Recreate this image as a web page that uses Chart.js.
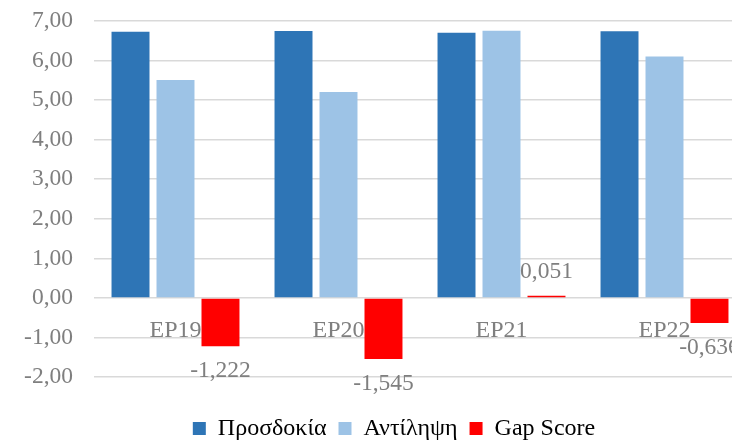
<!DOCTYPE html>
<html>
<head>
<meta charset="utf-8">
<script src="https://cdn.jsdelivr.net/npm/chart.js@4/dist/chart.umd.min.js"></script>
<style>
  html, body { margin: 0; padding: 0; overflow: hidden; background: #ffffff; width: 732px; height: 442px; }
  #c { position: absolute; left: 0; top: 0; }
</style>
</head>
<body>
<canvas id="c" width="760" height="442"></canvas>
<script>
const categories = ['EP19', 'EP20', 'EP21', 'EP22'];
const seriesNames = ['Προσδοκία', 'Αντίληψη', 'Gap Score'];
const expectation = [6.73, 6.75, 6.70, 6.74];
const perception = [5.508, 5.205, 6.751, 6.104];
const gapScore = [-1.222, -1.545, 0.051, -0.636];
const yTicks = [-2, -1, 0, 1, 2, 3, 4, 5, 6, 7];

const FONT = "'Liberation Serif', 'Times New Roman', serif";
const GRAY = '#7f7f7f';
const fmt = (v, d) => v.toFixed(d).replace('.', ',');

Chart.defaults.font.family = FONT;

const gapLabels = {
  id: 'gapLabels',
  afterDatasetsDraw(chart) {
    const ctx = chart.ctx;
    const meta = chart.getDatasetMeta(2);
    ctx.save();
    ctx.font = '23.5px ' + FONT;
    ctx.fillStyle = GRAY;
    ctx.textAlign = 'center';
    ctx.textBaseline = 'middle';
    meta.data.forEach((bar, i) => {
      const v = gapScore[i];
      const y = v < 0 ? bar.y + 25 : bar.y - 24;
      ctx.fillText(fmt(v, 3), bar.x, y);
    });
    ctx.restore();
  }
};

// move the legend to the bottom band of the canvas, centred like the reference
const legendPlace = {
  id: 'legendPlace',
  afterLayout(chart) {
    const lg = chart.legend;
    if (!lg) return;
    const dx = 21, dy = 27.5;
    lg.left += dx; lg.right += dx;
    lg.top += dy; lg.bottom += dy;
  }
};

const noPad = (s) => { s.paddingTop = 0; s.paddingBottom = 0; s.paddingLeft = 0; s.paddingRight = 0; };

new Chart(document.getElementById('c'), {
  type: 'bar',
  data: {
    labels: categories,
    datasets: [
      { label: seriesNames[0], data: expectation, backgroundColor: '#2E75B6' },
      { label: seriesNames[1], data: perception, backgroundColor: '#9DC3E6' },
      { label: seriesNames[2], data: gapScore, backgroundColor: '#FF0000' }
    ]
  },
  options: {
    responsive: false,
    animation: false,
    devicePixelRatio: 1,
    categoryPercentage: 0.828,
    barPercentage: 0.844,
    layout: { padding: { left: 0, right: 14, top: 21, bottom: 19 } },
    scales: {
      x: {
        position: { y: 0 },
        grid: { display: false, drawTicks: false },
        border: { display: false },
        ticks: { color: GRAY, font: { family: FONT, size: 24 }, padding: 18.5, maxRotation: 0 },
        afterFit: (s) => { s.height = 0; noPad(s); }
      },
      y: {
        min: -2, max: 7,
        afterBuildTicks: (s) => { s.ticks = yTicks.map(v => ({ value: v })); },
        grid: { color: '#d9d9d9', lineWidth: 1.5, drawTicks: false },
        border: { display: false },
        ticks: { color: GRAY, font: { family: FONT, size: 23.5 }, padding: 21, callback: (v) => fmt(v, 2) },
        afterFit: (s) => { s.width = 94; noPad(s); }
      }
    },
    plugins: {
      legend: {
        position: 'bottom',
        labels: { color: '#000000', font: { family: FONT, size: 24 }, boxWidth: 13, boxHeight: 13, padding: 12 }
      },
      tooltip: { enabled: false }
    }
  },
  plugins: [gapLabels, legendPlace]
});
</script>
</body>
</html>
